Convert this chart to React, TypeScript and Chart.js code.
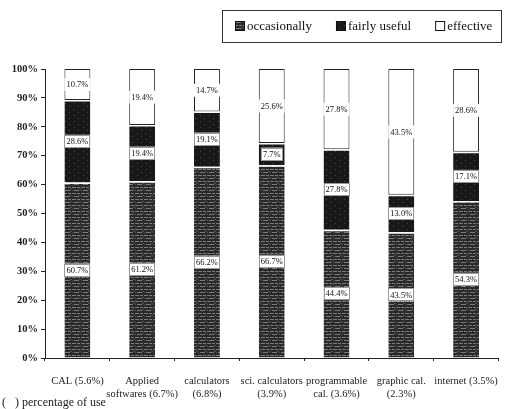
import React, { useEffect, useRef } from "react";
import { Chart, registerables } from "chart.js";

Chart.register(...registerables);

const categories: string[][] = [
  ["CAL (5.6%)"],
  ["Applied", "softwares (6.7%)"],
  ["calculators", "(6.8%)"],
  ["sci. calculators", "(3.9%)"],
  ["programmable", "cal. (3.6%)"],
  ["graphic cal.", "(2.3%)"],
  ["internet (3.5%)"],
];
const seriesNames = ["occasionally", "fairly useful", "effective"];
const occasionally = [60.7, 61.2, 66.2, 66.7, 44.4, 43.5, 54.3];
const fairlyUseful = [28.6, 19.4, 19.1, 7.7, 27.8, 13.0, 17.1];
const effective = [10.7, 19.4, 14.7, 25.6, 27.8, 43.5, 28.6];
const footnote = "(   ) percentage of use";

const SERIF = '"Liberation Serif", "Times New Roman", serif';

function makePattern(kind: "lines" | "dots"): CanvasPattern | string {
  const c = document.createElement("canvas");
  c.width = 9;
  c.height = 6;
  const g = c.getContext("2d");
  if (!g) return "#333";
  if (kind === "lines") {
    g.fillStyle = "#2a2a2a";
    g.fillRect(0, 0, 9, 6);
    g.fillStyle = "#7a7a7a";
    g.fillRect(0, 1, 4, 1);
    g.fillRect(5, 1, 3, 1);
    g.fillRect(2, 4, 5, 1);
    g.fillStyle = "#505050";
    g.fillRect(7, 3, 2, 1);
    g.fillRect(0, 4, 1, 1);
  } else {
    g.fillStyle = "#181818";
    g.fillRect(0, 0, 9, 6);
    g.fillStyle = "#4a4a4a";
    g.fillRect(2, 1, 1, 1);
    g.fillRect(6, 4, 1, 1);
  }
  return g.createPattern(c, "repeat") || "#333";
}

const valueLabels = {
  id: "valueLabels",
  afterDatasetsDraw(chart: any) {
    const ctx = chart.ctx;
    ctx.save();
    ctx.font = `8.5px ${SERIF}`;
    ctx.textAlign = "center";
    ctx.textBaseline = "middle";
    chart.data.datasets.forEach((ds: any, di: number) => {
      const meta = chart.getDatasetMeta(di);
      meta.data.forEach((el: any, i: number) => {
        const p = el.getProps(["x", "y", "base", "width"], true);
        const cy = (p.y + p.base) / 2;
        const text = ds.data[i].toFixed(1) + "%";
        const w = Math.max(ctx.measureText(text).width + 4, p.width - 5);
        const h = 13;
        ctx.fillStyle = "#fff";
        ctx.fillRect(p.x - w / 2, cy - h / 2, w, h);
        if (di < 2) {
          ctx.strokeStyle = "#999";
          ctx.lineWidth = 1;
          ctx.strokeRect(Math.round(p.x - w / 2) + 0.5, Math.round(cy - h / 2) + 0.5, Math.round(w) - 1, h - 1);
        }
        ctx.fillStyle = "#111";
        ctx.fillText(text, p.x, cy + 0.5);
      });
    });
    ctx.restore();
  },
};

const boxLegend = {
  id: "boxLegend",
  afterDraw(chart: any) {
    const ctx = chart.ctx;
    ctx.save();
    ctx.strokeStyle = "#333";
    ctx.lineWidth = 1;
    ctx.strokeRect(222.5, 10.5, 279, 32);
    ctx.font = `13px ${SERIF}`;
    ctx.textBaseline = "middle";
    ctx.textAlign = "left";
    let x = 235;
    const y = 26;
    chart.data.datasets.forEach((ds: any) => {
      ctx.fillStyle = ds.backgroundColor;
      ctx.fillRect(x, y - 5, 10, 10);
      ctx.strokeStyle = "#111";
      ctx.strokeRect(x + 0.5, y - 4.5, 9, 9);
      ctx.fillStyle = "#111";
      ctx.fillText(ds.label, x + 12, y + 1);
      x += 12 + ctx.measureText(ds.label).width + 24;
    });
    ctx.restore();
  },
};

export default function App() {
  const ref = useRef<HTMLCanvasElement | null>(null);
  useEffect(() => {
    if (!ref.current) return;
    const patLines = makePattern("lines");
    const patDots = makePattern("dots");
    const chart = new Chart(ref.current, {
      type: "bar",
      data: {
        labels: categories,
        datasets: [
          {
            label: seriesNames[0],
            data: occasionally,
            backgroundColor: patLines as any,
            borderColor: "#ffffff",
            borderWidth: { top: 1.5, left: 0, right: 0, bottom: 0 },
            borderSkipped: false,
          },
          {
            label: seriesNames[1],
            data: fairlyUseful,
            backgroundColor: patDots as any,
            borderColor: "#ffffff",
            borderWidth: { top: 1.5, left: 0, right: 0, bottom: 0 },
            borderSkipped: false,
          },
          {
            label: seriesNames[2],
            data: effective,
            backgroundColor: "#ffffff",
            borderColor: "#222222",
            borderWidth: 1,
            borderSkipped: false,
          },
        ],
      },
      options: {
        responsive: false,
        animation: false,
        layout: { padding: { top: 69, right: 2, left: 2, bottom: 0 } },
        datasets: { bar: { categoryPercentage: 1, barPercentage: 0.4 } },
        plugins: {
          legend: { display: false },
          tooltip: { enabled: false },
          title: {
            display: true,
            text: footnote,
            position: "bottom",
            align: "start",
            color: "#222",
            font: { family: SERIF, size: 12, weight: "normal", lineHeight: 1.0 },
            padding: { top: -3, bottom: 0 },
          },
        },
        scales: {
          x: {
            stacked: true,
            grid: {
              display: true,
              drawOnChartArea: false,
              drawTicks: true,
              tickLength: 3,
              color: "#222",
              offset: true,
            },
            border: { display: true, color: "#222", width: 1 },
            ticks: {
              color: "#222",
              font: { family: SERIF, size: 10.5 },
              maxRotation: 0,
              autoSkip: false,
              padding: 14,
            },
            afterFit(scale: any) {
              scale.height = 42;
            },
          },
          y: {
            stacked: true,
            min: 0,
            max: 100,
            grid: {
              display: true,
              drawOnChartArea: false,
              drawTicks: true,
              tickLength: 4,
              color: "#222",
            },
            border: { display: true, color: "#222", width: 1 },
            ticks: {
              stepSize: 10,
              color: "#222",
              font: { family: SERIF, size: 10.5, weight: "bold" },
              padding: 3,
              callback: (v: any) => v + "%",
            },
            afterFit(scale: any) {
              scale.width = 43;
            },
          },
        },
      },
      plugins: [valueLabels, boxLegend],
    });
    return () => chart.destroy();
  }, []);
  return (
    <div style={{ position: "absolute", left: 0, top: 0, width: 512, height: 409, background: "#fff" }}>
      <canvas ref={ref} width={512} height={409} style={{ display: "block" }} />
    </div>
  );
}
